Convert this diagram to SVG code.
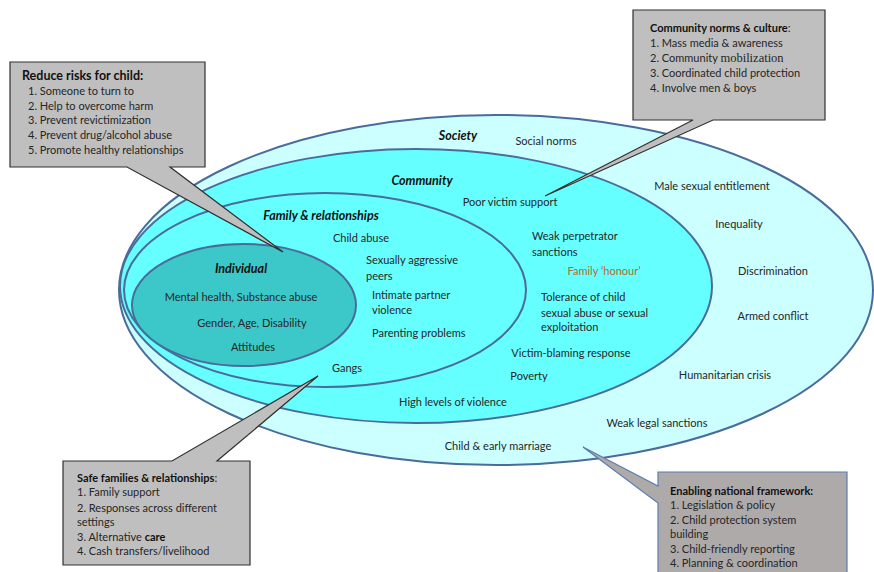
<svg xmlns="http://www.w3.org/2000/svg" width="874" height="572" viewBox="0 0 874 572">
<style>
text{font-family:Lato,"Open Sans","Liberation Sans",sans-serif;font-size:11px;fill:#262626}
.lvl{font-weight:bold;font-style:italic;font-size:12.5px;fill:#111}
.ell{stroke:#4a6c9c;stroke-width:2}
.call{fill:#bfbfbf;stroke:#303030;stroke-width:1.2}
.ttl{font-weight:bold;fill:#111}
.m{text-anchor:middle}
</style>
<rect width="874" height="572" fill="#fff"/>
<g id="society"><ellipse class="ell" cx="496" cy="290" rx="377" ry="175" fill="#ccffff"/></g>
<g id="community"><ellipse class="ell" cx="416" cy="286" rx="296" ry="137" fill="#66ffff"/></g>
<g id="family"><ellipse class="ell" cx="325" cy="290" rx="201" ry="97" fill="#66ffff"/></g>
<g id="individual"><ellipse class="ell" cx="244" cy="305" rx="112" ry="61" fill="#3cc8c8"/></g>

<g id="labels">
<text class="lvl m" x="458" y="140">Society</text>
<text class="m" x="546" y="145">Social norms</text>
<text class="lvl m" x="422" y="185">Community</text>
<text class="m" x="510" y="206">Poor victim support</text>
<text class="m" x="712" y="190">Male sexual entitlement</text>
<text class="m" x="739" y="228">Inequality</text>
<text class="m" x="773" y="275">Discrimination</text>
<text class="m" x="773" y="320">Armed conflict</text>
<text class="m" x="725" y="379">Humanitarian crisis</text>
<text class="m" x="657" y="427">Weak legal sanctions</text>
<text class="m" x="498" y="450">Child &amp; early marriage</text>
<text class="m" x="453" y="406">High levels of violence</text>
<text class="m" x="529" y="380">Poverty</text>
<text class="m" x="571" y="357">Victim-blaming response</text>
<text x="541" y="301">Tolerance of child</text>
<text x="541" y="317">sexual abuse or sexual</text>
<text x="541" y="331">exploitation</text>
<text class="m" x="604" y="275" style="fill:#b8692d">Family ‘honour’</text>
<text x="532" y="240">Weak perpetrator</text>
<text x="532" y="256">sanctions</text>
<text class="lvl m" x="321" y="220">Family &amp; relationships</text>
<text class="m" x="361" y="242">Child abuse</text>
<text x="366" y="264">Sexually aggressive</text>
<text x="366" y="280">peers</text>
<text x="372" y="299">Intimate partner</text>
<text x="372" y="314">violence</text>
<text x="372" y="337">Parenting problems</text>
<text class="m" x="347" y="372">Gangs</text>
<text class="lvl m" x="241" y="273">Individual</text>
<text class="m" x="241" y="301">Mental health, Substance abuse</text>
<text class="m" x="252" y="327">Gender, Age, Disability</text>
<text class="m" x="253" y="351">Attitudes</text>
</g>

<g id="connectors">
<path id="callout1" class="call" d="M10,62 H205 V167 H170 L283,252 L127,167 H10 Z"/>
<path id="callout2" class="call" d="M633,10 H825 V120 H713 L545,196 L693,120 H633 Z"/>
<path id="callout3" class="call" d="M63,461 H172 L318,376 L217,461 H250 V565 H63 Z"/>
<path id="callout4" class="call" d="M658,472 H847 V590 H658 V503 L583,447 L658,486 Z" style="fill:#aeaaaa;stroke:#5a7db0"/>
</g>

<g id="box1">
<text class="ttl" x="22" y="80" style="font-size:12.5px">Reduce risks for child:</text>
<text x="28" y="95">1. Someone to turn to</text>
<text x="28" y="110">2. Help to overcome harm</text>
<text x="28" y="124">3. Prevent revictimization</text>
<text x="28" y="139">4. Prevent drug/alcohol abuse</text>
<text x="28" y="154">5. Promote healthy relationships</text>
</g>
<g id="box2">
<text x="650" y="32"><tspan class="ttl">Community norms &amp; culture</tspan>:</text>
<text x="650" y="47">1. Mass media &amp; awareness</text>
<text x="650" y="62">2. Community <tspan style="font-family:'Liberation Serif',serif;font-size:12.5px">mobilization</tspan></text>
<text x="650" y="77">3. Coordinated child protection</text>
<text x="650" y="92">4. Involve men &amp; boys</text>
</g>
<g id="box3">
<text x="77" y="482"><tspan class="ttl">Safe families &amp; relationships</tspan>:</text>
<text x="77" y="496">1. Family support</text>
<text x="77" y="512">2. Responses across different</text>
<text x="77" y="526">settings</text>
<text x="77" y="541">3. Alternative <tspan class="ttl">care</tspan></text>
<text x="77" y="555">4. Cash transfers/livelihood</text>
</g>
<g id="box4">
<text class="ttl" x="670" y="495">Enabling national framework:</text>
<text x="670" y="509">1. Legislation &amp; policy</text>
<text x="670" y="524">2. Child protection system</text>
<text x="670" y="538">building</text>
<text x="670" y="553">3. Child-friendly reporting</text>
<text x="670" y="567">4. Planning &amp; coordination</text>
</g>
</svg>
